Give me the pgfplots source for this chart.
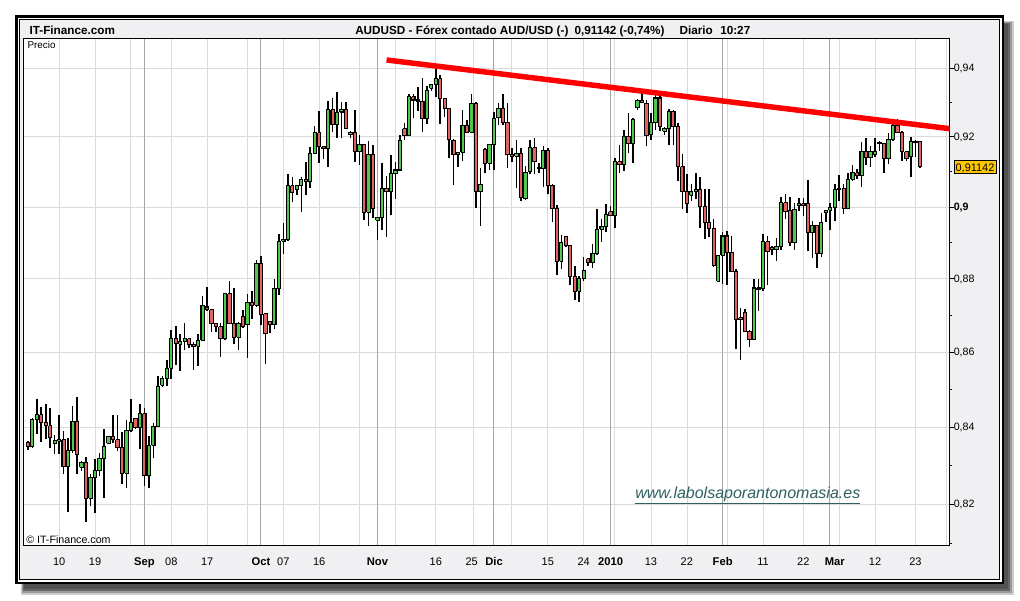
\documentclass[border=0pt]{standalone}
\usepackage{pgfplots}
\pgfplotsset{compat=1.18}
\usepackage{pgfplotstable}
\usepackage{fontspec}
\setmainfont{Liberation Sans}
\definecolor{cgreen}{RGB}{80,200,80}
\definecolor{cred}{RGB}{224,100,100}
\definecolor{panel}{RGB}{240,240,242}
\definecolor{gridl}{RGB}{218,218,218}
\definecolor{gridd}{RGB}{165,165,165}
\definecolor{tealtxt}{RGB}{46,96,96}
\definecolor{pbox}{RGB}{255,200,0}

\pgfplotstableread{
n o h l c
1 0.8361 0.8365 0.8341 0.8350
2 0.8349 0.8425 0.8345 0.8420
3 0.8420 0.8474 0.8384 0.8433
4 0.8433 0.8455 0.8362 0.8412
5 0.8412 0.8463 0.8370 0.8404
6 0.8404 0.8450 0.8346 0.8373
7 0.8359 0.8380 0.8331 0.8366
8 0.8364 0.8434 0.8331 0.8368
9 0.8368 0.8391 0.8277 0.8298
10 0.8298 0.8371 0.8181 0.8339
11 0.8339 0.8456 0.8334 0.8415
12 0.8415 0.8481 0.8277 0.8329
13 0.8296 0.8311 0.8285 0.8309
14 0.8309 0.8322 0.8155 0.8216
15 0.8216 0.8278 0.8197 0.8269
16 0.8269 0.8317 0.8177 0.8287
17 0.8287 0.8334 0.8274 0.8319
18 0.8319 0.8397 0.8217 0.8350
19 0.8358 0.8378 0.8356 0.8377
20 0.8377 0.8432 0.8360 0.8369
21 0.8368 0.8432 0.8339 0.8347
22 0.8347 0.8388 0.8253 0.8280
23 0.8280 0.8419 0.8241 0.8391
24 0.8391 0.8474 0.8389 0.8412
25 0.8424 0.8426 0.8397 0.8399
26 0.8399 0.8461 0.8342 0.8436
27 0.8436 0.8452 0.8247 0.8275
28 0.8275 0.8378 0.8241 0.8353
29 0.8353 0.8412 0.8319 0.8403
30 0.8403 0.8536 0.8402 0.8509
31 0.8512 0.8536 0.8507 0.8529
32 0.8529 0.8580 0.8509 0.8557
33 0.8557 0.8661 0.8529 0.8638
34 0.8638 0.8672 0.8566 0.8623
35 0.8622 0.8650 0.8550 0.8628
36 0.8628 0.8678 0.8606 0.8638
37 0.8636 0.8638 0.8611 0.8622
38 0.8622 0.8627 0.8553 0.8616
39 0.8616 0.8648 0.8564 0.8632
40 0.8632 0.8752 0.8630 0.8727
41 0.8723 0.8779 0.8713 0.8715
42 0.8715 0.8717 0.8654 0.8677
43 0.8677 0.8679 0.8654 0.8669
44 0.8669 0.8680 0.8588 0.8636
45 0.8636 0.8762 0.8634 0.8759
46 0.8759 0.8793 0.8677 0.8679
47 0.8679 0.8774 0.8622 0.8641
48 0.8641 0.8681 0.8606 0.8679
49 0.8696 0.8715 0.8667 0.8669
50 0.8675 0.8759 0.8586 0.8734
51 0.8734 0.8766 0.8689 0.8727
52 0.8727 0.8852 0.8723 0.8843
53 0.8843 0.8863 0.8675 0.8702
54 0.8704 0.8706 0.8568 0.8652
55 0.8682 0.8684 0.8652 0.8675
56 0.8675 0.8801 0.8663 0.8774
57 0.8774 0.8924 0.8755 0.8904
58 0.8904 0.8954 0.8870 0.8908
59 0.8908 0.9093 0.8906 0.9061
60 0.9061 0.9086 0.9014 0.9041
61 0.9049 0.9063 0.9034 0.9061
62 0.9061 0.9086 0.8986 0.9078
63 0.9078 0.9129 0.9034 0.9072
64 0.9072 0.9172 0.9053 0.9152
65 0.9152 0.9231 0.9150 0.9212
66 0.9212 0.9274 0.9125 0.9172
67 0.9172 0.9174 0.9136 0.9166
68 0.9166 0.9303 0.9115 0.9279
69 0.9279 0.9313 0.9214 0.9236
70 0.9236 0.9330 0.9197 0.9270
71 0.9272 0.9300 0.9196 0.9278
72 0.9278 0.9300 0.9223 0.9225
73 0.9206 0.9216 0.9196 0.9214
74 0.9214 0.9279 0.9128 0.9158
75 0.9158 0.9206 0.9120 0.9179
76 0.9179 0.9181 0.8965 0.8985
77 0.8985 0.9187 0.8947 0.9149
78 0.9149 0.9177 0.8970 0.8995
79 0.8963 0.8972 0.8909 0.8970
80 0.8970 0.9125 0.8935 0.9054
81 0.9054 0.9087 0.8917 0.9043
82 0.9043 0.9147 0.8977 0.9095
83 0.9095 0.9128 0.9024 0.9105
84 0.9105 0.9206 0.9103 0.9189
85 0.9223 0.9240 0.9191 0.9204
86 0.9204 0.9324 0.9202 0.9316
87 0.9316 0.9324 0.9254 0.9307
88 0.9307 0.9345 0.9274 0.9303
89 0.9303 0.9371 0.9214 0.9252
90 0.9252 0.9349 0.9238 0.9334
91 0.9342 0.9355 0.9334 0.9353
92 0.9353 0.9398 0.9317 0.9369
93 0.9369 0.9379 0.9238 0.9311
94 0.9311 0.9313 0.9259 0.9283
95 0.9283 0.9285 0.9139 0.9193
96 0.9191 0.9193 0.9062 0.9149
97 0.9149 0.9158 0.9113 0.9156
98 0.9156 0.9279 0.9130 0.9232
99 0.9232 0.9249 0.9210 0.9214
100 0.9214 0.9324 0.9210 0.9298
101 0.9298 0.9300 0.8997 0.9043
102 0.9043 0.9111 0.8947 0.9063
103 0.9165 0.9167 0.9097 0.9125
104 0.9125 0.9180 0.9106 0.9177
105 0.9177 0.9272 0.9106 0.9254
106 0.9255 0.9299 0.9234 0.9281
107 0.9281 0.9326 0.9234 0.9243
108 0.9243 0.9297 0.9111 0.9149
109 0.9149 0.9169 0.9128 0.9145
110 0.9145 0.9192 0.9054 0.9153
111 0.9153 0.9167 0.9017 0.9027
112 0.9024 0.9118 0.9020 0.9098
113 0.9100 0.9192 0.9093 0.9169
114 0.9169 0.9197 0.9093 0.9130
115 0.9111 0.9124 0.9096 0.9109
116 0.9109 0.9173 0.9058 0.9161
117 0.9161 0.9169 0.9036 0.9062
118 0.9062 0.9064 0.8958 0.8995
119 0.8995 0.9006 0.8810 0.8849
120 0.8849 0.8921 0.8826 0.8902
121 0.8917 0.8919 0.8887 0.8893
122 0.8893 0.8895 0.8784 0.8807
123 0.8807 0.8835 0.8743 0.8766
124 0.8766 0.8807 0.8736 0.8800
125 0.8800 0.8861 0.8794 0.8824
126 0.8856 0.8858 0.8835 0.8845
127 0.8845 0.8896 0.8829 0.8871
128 0.8871 0.8995 0.8867 0.8938
129 0.8938 0.8966 0.8902 0.8945
130 0.8945 0.9010 0.8930 0.8979
131 0.8987 0.9003 0.8975 0.8977
132 0.8977 0.9140 0.8942 0.9129
133 0.9129 0.9178 0.9096 0.9120
134 0.9120 0.9221 0.9102 0.9202
135 0.9202 0.9270 0.9153 0.9181
136 0.9181 0.9255 0.9126 0.9250
137 0.9284 0.9310 0.9277 0.9306
138 0.9306 0.9328 0.9297 0.9299
139 0.9297 0.9306 0.9173 0.9205
140 0.9207 0.9270 0.9191 0.9241
141 0.9241 0.9323 0.9219 0.9313
142 0.9313 0.9320 0.9216 0.9229
143 0.9217 0.9229 0.9205 0.9223
144 0.9223 0.9282 0.9176 0.9274
145 0.9274 0.9279 0.9176 0.9229
146 0.9229 0.9241 0.9074 0.9115
147 0.9115 0.9150 0.8995 0.9044
148 0.9044 0.9095 0.8984 0.9010
149 0.9033 0.9064 0.9017 0.9044
150 0.9044 0.9096 0.9022 0.9050
151 0.9050 0.9086 0.8940 0.9001
152 0.9001 0.9050 0.8912 0.8958
153 0.8958 0.9050 0.8916 0.8940
154 0.8940 0.8966 0.8834 0.8838
155 0.8794 0.8867 0.8792 0.8865
156 0.8865 0.8930 0.8787 0.8919
157 0.8919 0.8933 0.8782 0.8874
158 0.8874 0.8919 0.8818 0.8821
159 0.8821 0.8828 0.8608 0.8689
160 0.8693 0.8721 0.8578 0.8689
161 0.8707 0.8716 0.8655 0.8657
162 0.8657 0.8660 0.8613 0.8634
163 0.8634 0.8800 0.8632 0.8775
164 0.8775 0.8800 0.8711 0.8770
165 0.8773 0.8924 0.8766 0.8903
166 0.8903 0.8919 0.8784 0.8877
167 0.8880 0.8891 0.8865 0.8887
168 0.8880 0.8913 0.8849 0.8889
169 0.8889 0.9029 0.8880 0.9012
170 0.9012 0.9038 0.8967 0.8989
171 0.8991 0.9029 0.8891 0.8900
172 0.8900 0.9012 0.8880 0.8993
173 0.9005 0.9025 0.8989 0.9009
174 0.9009 0.9027 0.8975 0.9005
175 0.9009 0.9076 0.8877 0.8928
176 0.8928 0.8961 0.8857 0.8949
177 0.8949 0.8951 0.8831 0.8870
178 0.8870 0.8984 0.8860 0.8956
179 0.8984 0.8993 0.8959 0.8991
180 0.8991 0.9012 0.8935 0.9000
181 0.9000 0.9064 0.8961 0.9050
182 0.9050 0.9091 0.9017 0.9052
183 0.9052 0.9064 0.8981 0.8996
184 0.8996 0.9098 0.8994 0.9079
185 0.9079 0.9121 0.9074 0.9097
186 0.9097 0.9107 0.9081 0.9089
187 0.9089 0.9186 0.9058 0.9159
188 0.9159 0.9197 0.9121 0.9140
189 0.9140 0.9173 0.9115 0.9157
190 0.9150 0.9197 0.9143 0.9157
191 0.9185 0.9187 0.9159 0.9180
192 0.9180 0.9182 0.9098 0.9138
193 0.9138 0.9212 0.9123 0.9192
194 0.9192 0.9241 0.9188 0.9234
195 0.9234 0.9253 0.9212 0.9214
196 0.9214 0.9216 0.9131 0.9157
197 0.9157 0.9159 0.9131 0.9138
198 0.9143 0.9199 0.9085 0.9188
199 0.9188 0.9190 0.9142 0.9184
200 0.9186 0.9188 0.9112 0.9114
}\candles

\begin{document}
\begin{tikzpicture}
\useasboundingbox (0,0) rectangle (765pt,450pt);
\fill[white] (0,0) rectangle (765pt,450pt);
\begin{scope}[x=0.75pt,y=-0.75pt,yshift=450pt]
  % soft shadow
  \fill[black!20] (21,21) rectangle (1014,595);
  \fill[black!40] (22,22) rectangle (1012,593);
  \fill[black!60] (23,23) rectangle (1010,591);
  \fill[black!68] (24,24) rectangle (1008,589);
  % frame
  \fill[white] (15.2,15.2) rectangle (1004,584);
  \draw[black, line width=1.75pt] (16.4,16.4) rectangle (1002.7,582.7);
  \filldraw[fill=panel, draw=black, line width=0.75pt] (19.5,19.5) rectangle (999.5,579.5);
  % plot area and grid (snapped to pixel centres)
  \fill[white] (23.5,38.5) rectangle (949.5,545.5);
  \foreach \gx in {59.5,95.5,130.5,171.5,207.5,247.5,283.5,319.5,359.5,395.5,435.5,473.5,511.5,547.5,583.5,614.5,651.5,687.5,727.5,763.5,803.5,839.5,875.5,915.5,946.5}
    \draw[gridl, line width=0.75pt] (\gx,38.5) -- (\gx,545.5);
  \foreach \gy in {68.5,136.5,207.5,278.5,352.5,427.5,504.5}
    \draw[gridl, line width=0.75pt] (23.5,\gy) -- (949.5,\gy);
  \foreach \gx in {144.5,260.5,377.5,493.5,610.5,722.5,829.5}
    \draw[gridd, line width=0.75pt] (\gx,38.5) -- (\gx,545.5);
\end{scope}

\begin{axis}[
  at={(17.625pt,40.875pt)}, anchor=south west,
  width=694.5pt, height=380.25pt, scale only axis,
  xmin=0.04, xmax=206.6,
  ymode=log, ymin=0.80948, ymax=0.94882,
  axis line style={black, line width=0.75pt},
  xtick={8,16,33,41,58,66,92,100,117,125,140,148,165,174,190,199},
  xticklabels={10,19,08,17,07,16,16,25,15,24,13,22,11,22,12,23},
  extra x ticks={27,53,79,105,131,156,181},
  extra x tick labels={Sep,Oct,Nov,Dic,2010,Feb,Mar},
  extra x tick style={xticklabel style={font=\bfseries\fontsize{8.4}{9}\selectfont}},
  x tick style={draw=none},
  xticklabel style={font=\fontsize{8.25}{9}\selectfont, anchor=base, inner sep=0pt, yshift=-12pt},
  ytick={0.82,0.84,0.86,0.88,0.90,0.92,0.94},
  yticklabels={{0,82},{0,84},{0,86},{0,88},{\textbf{0,9}},{0,92},{0,94}},
  minor ytick={0.81,0.83,0.85,0.87,0.89,0.91,0.93},
  ytick pos=right, yticklabel pos=right, tick align=outside,
  major tick length=3pt, minor tick length=1.5pt,
  y tick style={black, line width=0.75pt},
  yticklabel style={font=\fontsize{8}{9}\selectfont, anchor=base west, inner sep=0pt, xshift=0pt, yshift=-2.55pt},
  clip=true,
]
\pgfplotstablegetrowsof{\candles}
\pgfmathtruncatemacro\lastrow{\pgfplotsretval-1}
\pgfplotsforeachungrouped \i in {0,...,\lastrow}{%
  \pgfplotstablegetelem{\i}{n}\of\candles \let\vN=\pgfplotsretval
  \pgfplotstablegetelem{\i}{o}\of\candles \let\vO=\pgfplotsretval
  \pgfplotstablegetelem{\i}{h}\of\candles \let\vH=\pgfplotsretval
  \pgfplotstablegetelem{\i}{l}\of\candles \let\vL=\pgfplotsretval
  \pgfplotstablegetelem{\i}{c}\of\candles \let\vC=\pgfplotsretval
  \pgfmathsetmacro\xa{\vN-0.37}%
  \pgfmathsetmacro\xb{\vN+0.37}%
  \pgfmathtruncatemacro\up{\vC>=\vO ? 1 : 0}%
  \ifnum\up=1 \def\bodycol{cgreen}\else\def\bodycol{cred}\fi
  \edef\doplot{%
    \noexpand\addplot[forget plot, mark=none, draw=black, line width=1.15pt] coordinates {(\vN,\vL) (\vN,\vH)};%
    \noexpand\addplot[forget plot, mark=none, draw=black, fill=\bodycol, line width=0.8pt] coordinates {(\xa,\vO) (\xb,\vO) (\xb,\vC) (\xa,\vC) (\xa,\vO)};%
  }%
  \doplot
}
% resistance trend line
\addplot[forget plot, mark=none, red, line width=4.1pt] coordinates {(81.03,0.94245) (207,0.92235)};
\end{axis}

\begin{scope}[x=0.75pt,y=-0.75pt,yshift=450pt]
  \node[anchor=base west, inner sep=0pt, font=\bfseries\fontsize{8.8}{10}\selectfont] at (29.3,34.3) {IT-Finance.com};
  \node[anchor=base west, inner sep=0pt, font=\bfseries\fontsize{8.8}{10}\selectfont] at (355,34.3) {AUDUSD - Fórex contado AUD/USD (-)};
  \node[anchor=base west, inner sep=0pt, font=\bfseries\fontsize{8.8}{10}\selectfont] at (574.3,34.3) {0,91142 (-0,74\%)};
  \node[anchor=base west, inner sep=0pt, font=\bfseries\fontsize{8.8}{10}\selectfont] at (679.3,34.3) {Diario};
  \node[anchor=base west, inner sep=0pt, font=\bfseries\fontsize{8.8}{10}\selectfont] at (720,34.3) {10:27};
  \node[anchor=base west, inner sep=0pt, font=\fontsize{7.4}{8}\selectfont] at (27.3,48.3) {Precio};
  \node[anchor=base west, inner sep=0pt, font=\fontsize{8}{9}\selectfont] at (26,543.3) {© IT-Finance.com};
  \node[anchor=base west, inner sep=0pt, text=tealtxt, font=\itshape\fontsize{12}{14}\selectfont] at (635,498) {\underline{www.labolsaporantonomasia.es}};
  \filldraw[fill=pbox, draw=black, line width=0.75pt] (954,161) rectangle (996,173.3);
  \node[anchor=base, inner sep=0pt, font=\fontsize{8.2}{9}\selectfont] at (975,171.3) {0,91142};
\end{scope}
\end{tikzpicture}
\end{document}
